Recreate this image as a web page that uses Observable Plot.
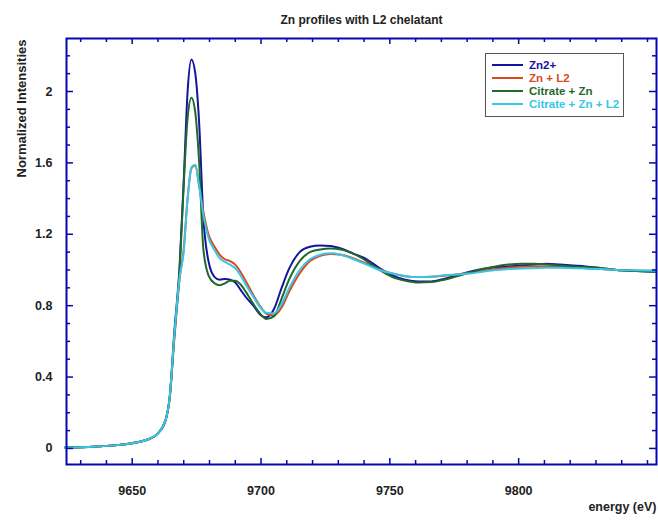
<!DOCTYPE html>
<html>
<head>
<meta charset="utf-8">
<script src="https://cdn.jsdelivr.net/npm/d3@7"></script>
<script src="https://cdn.jsdelivr.net/npm/@observablehq/plot@0.6"></script>
<style>
  html, body { margin: 0; padding: 0; background: #fff; }
  #wrap { position: relative; width: 658px; height: 521px; font-family: "Liberation Sans", Arial, sans-serif; }
  #legend { position: absolute; left: 485px; top: 53px; width: 139px; height: 64px; border: 1px solid #555; background: #fff; box-sizing: border-box; padding-top: 4px; }
  .item { display: flex; align-items: center; height: 13px; font-size: 11.5px; font-weight: bold; }
  .item svg { margin-left: 6px; margin-right: 6px; }
</style>
</head>
<body>
<div id="wrap"><div id="chart"></div><div id="legend"></div></div>
<script>
const title = "Zn profiles with L2 chelatant";
const xLabel = "energy (eV)";
const yLabel = "Normalized Intensities";
const seriesNames = ["Zn2+", "Zn + L2", "Citrate + Zn", "Citrate + Zn + L2"];
const seriesColors = ["#1414a0", "#d9481e", "#1f6a2a", "#36c6e6"];
const xTicks = [9650, 9700, 9750, 9800];
const yTicks = [0, 0.4, 0.8, 1.2, 1.6, 2];
const energy = [9624, 9635, 9645, 9652, 9656, 9660, 9663, 9664.5, 9666.4, 9668.4, 9670, 9671.5, 9673, 9674.5, 9676, 9677.6, 9679.6, 9682, 9684, 9686, 9688, 9690, 9692, 9694, 9697, 9700, 9702, 9705, 9708, 9711, 9715, 9719, 9723, 9727, 9731, 9736, 9741, 9746, 9751, 9756, 9761, 9766, 9771, 9776, 9781, 9786, 9791, 9796, 9801, 9806, 9811, 9816, 9821, 9826, 9832, 9838, 9844, 9853];
const zn2 = [0.005, 0.01, 0.02, 0.035, 0.05, 0.085, 0.16, 0.28, 0.66, 1.02, 1.50, 2.00, 2.18, 2.10, 1.82, 1.30, 1.05, 0.96, 0.945, 0.95, 0.945, 0.93, 0.89, 0.85, 0.80, 0.745, 0.735, 0.78, 0.90, 1.01, 1.10, 1.13, 1.137, 1.135, 1.12, 1.09, 1.06, 1.01, 0.97, 0.945, 0.935, 0.935, 0.95, 0.97, 0.99, 1.005, 1.015, 1.02, 1.025, 1.03, 1.035, 1.03, 1.025, 1.02, 1.01, 1.0, 0.995, 0.99];
const znL2 = [0.005, 0.01, 0.02, 0.035, 0.05, 0.085, 0.16, 0.27, 0.62, 0.95, 1.12, 1.40, 1.57, 1.585, 1.47, 1.33, 1.20, 1.13, 1.085, 1.06, 1.05, 1.03, 0.99, 0.94, 0.86, 0.79, 0.755, 0.745, 0.79, 0.88, 0.98, 1.05, 1.08, 1.09, 1.085, 1.065, 1.035, 1.005, 0.98, 0.965, 0.96, 0.962, 0.968, 0.975, 0.985, 0.995, 1.005, 1.012, 1.018, 1.02, 1.02, 1.018, 1.015, 1.01, 1.005, 1.0, 0.997, 0.995];
const citZn = [0.005, 0.01, 0.02, 0.035, 0.05, 0.085, 0.16, 0.28, 0.64, 1.00, 1.48, 1.85, 1.965, 1.88, 1.60, 1.12, 0.97, 0.925, 0.915, 0.925, 0.94, 0.94, 0.92, 0.88, 0.81, 0.75, 0.725, 0.74, 0.84, 0.95, 1.05, 1.10, 1.115, 1.12, 1.115, 1.09, 1.05, 1.0, 0.96, 0.94, 0.93, 0.932, 0.945, 0.965, 0.985, 1.005, 1.02, 1.03, 1.035, 1.035, 1.03, 1.025, 1.02, 1.015, 1.01, 1.0, 0.995, 0.99];
const citZnL2 = [0.005, 0.01, 0.02, 0.035, 0.05, 0.085, 0.16, 0.28, 0.64, 0.96, 1.10, 1.40, 1.575, 1.59, 1.47, 1.31, 1.18, 1.11, 1.065, 1.045, 1.03, 1.01, 0.97, 0.92, 0.85, 0.785, 0.76, 0.757, 0.81, 0.90, 1.00, 1.06, 1.085, 1.093, 1.085, 1.06, 1.03, 1.0, 0.98, 0.965, 0.96, 0.962, 0.97, 0.975, 0.98, 0.99, 1.0, 1.005, 1.008, 1.01, 1.012, 1.012, 1.01, 1.008, 1.005, 1.0, 0.998, 0.995];

const allSeries = [zn2, znL2, citZn, citZnL2];
const rows = [];
allSeries.forEach((vals, si) => vals.forEach((v, i) => rows.push({series: seriesNames[si], energy: energy[i], value: v})));

const W = 658, H = 521, mL = 66, mR = 2, mT = 38, mB = 57;
const fW = W - mL - mR, fH = H - mT - mB;
const frameColor = "#0808a8";
const xMinor = d3.range(9630, 9851, 10).filter(d => !xTicks.includes(d));
const yMinor = d3.range(1, 23).map(d => d / 10).filter(d => !yTicks.some(t => Math.abs(t - d) < 1e-9));

const font = "Liberation Sans, Arial, sans-serif";
const chart = Plot.plot({
  width: W, height: H,
  marginLeft: mL, marginRight: mR, marginTop: mT, marginBottom: mB,
  style: {fontFamily: font, background: "#fff"},
  x: {domain: [9624.5, 9853.5]},
  y: {domain: [-0.09, 2.297]},
  color: {domain: seriesNames, range: seriesColors},
  marks: [
    Plot.lineY(rows, {x: "energy", y: "value", z: "series", stroke: "series", strokeWidth: 2, curve: "monotone-x"}),
    Plot.axisX(xTicks, {tickSize: 0, tickPadding: 22, fontSize: 12.5, fontWeight: "bold", fill: "#222", label: null, tickFormat: d => String(d)}),
    Plot.axisY(yTicks, {tickSize: 0, tickPadding: 14, fontSize: 12.5, fontWeight: "bold", fill: "#222", label: null, tickFormat: d => String(d)}),
    Plot.tickX(xTicks, {x: d => d, stroke: frameColor, strokeWidth: 1.5, insetTop: fH - 6}),
    Plot.tickX(xMinor, {x: d => d, stroke: frameColor, strokeWidth: 1.5, insetTop: fH - 4}),
    Plot.tickX(xTicks, {x: d => d, stroke: frameColor, strokeWidth: 1.5, insetBottom: fH - 6}),
    Plot.tickX(xMinor, {x: d => d, stroke: frameColor, strokeWidth: 1.5, insetBottom: fH - 4}),
    Plot.tickY(yTicks, {y: d => d, stroke: frameColor, strokeWidth: 1.5, insetRight: fW - 7}),
    Plot.tickY(yMinor, {y: d => d, stroke: frameColor, strokeWidth: 1.5, insetRight: fW - 4}),
    Plot.tickY(yTicks, {y: d => d, stroke: frameColor, strokeWidth: 1.5, insetLeft: fW - 7}),
    Plot.tickY(yMinor, {y: d => d, stroke: frameColor, strokeWidth: 1.5, insetLeft: fW - 4}),
    Plot.frame({stroke: frameColor, strokeWidth: 2}),
    Plot.text([title], {frameAnchor: "top", dy: -23, fontSize: 12, fontWeight: "bold", fill: "#222"}),
    Plot.text([xLabel], {frameAnchor: "bottom-right", dy: 46, textAnchor: "end", fontSize: 12.5, fontWeight: "bold", fill: "#222"}),
    Plot.text([yLabel], {frameAnchor: "top-left", dx: -50, dy: 1, rotate: -90, textAnchor: "end", fontSize: 13, fontWeight: "bold", fill: "#222"})
  ]
});
document.getElementById("chart").appendChild(chart);

const legend = document.getElementById("legend");
seriesNames.forEach((name, i) => {
  const item = document.createElement("div");
  item.className = "item";
  item.style.color = seriesColors[i];
  item.innerHTML = `<svg width="31" height="4"><line x1="0" x2="31" y1="2" y2="2" stroke="${seriesColors[i]}" stroke-width="2"/></svg><span>${name}</span>`;
  legend.appendChild(item);
});
</script>
</body>
</html>
